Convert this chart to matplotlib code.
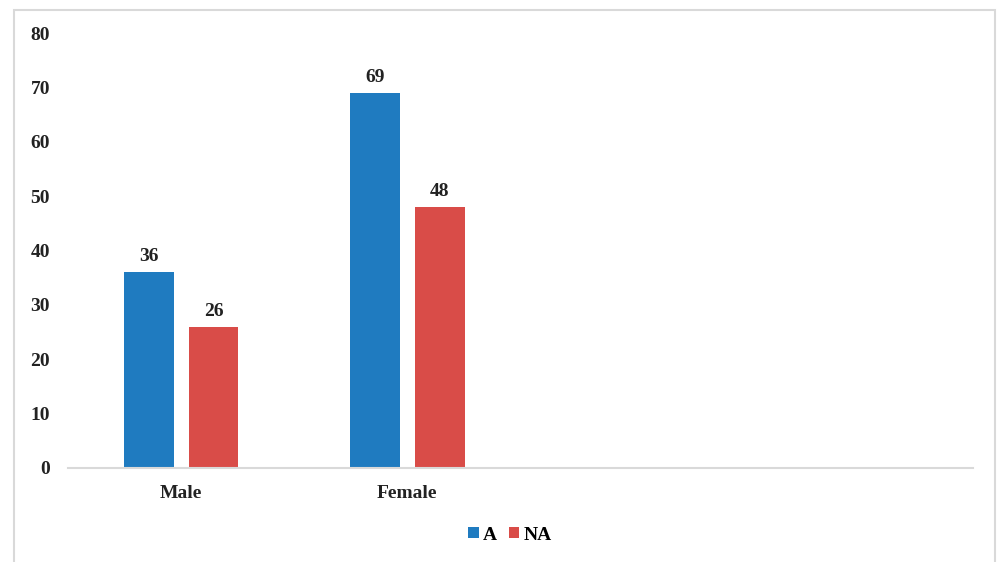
import numpy as np
import matplotlib.pyplot as plt
from matplotlib.patches import Rectangle

plt.rcParams['font.family'] = ['Liberation Serif', 'DejaVu Serif']

categories = ['Male', 'Female', '', '']
a_values = [36, 69]
na_values = [26, 48]

blue = '#1f7bc0'
red = '#d94c48'

fig = plt.figure(figsize=(9.98, 5.62), dpi=100)
ax = fig.add_axes([68 / 998, 1 - 468 / 562, 905 / 998, 435 / 562])

# light frame around the whole chart area
fig.patches.append(Rectangle((14 / 998, -0.01), 981 / 998, 1 - 10 / 562 + 0.01,
                             transform=fig.transFigure, fill=False,
                             edgecolor='#d9d9d9', linewidth=1.5))

x = np.arange(len(a_values))
w = 0.22
off = 0.143
b1 = ax.bar(x - off, a_values, w, color=blue, label='A')
b2 = ax.bar(x + off, na_values, w, color=red, label='NA')

for bars, vals in ((b1, a_values), (b2, na_values)):
    for b, v in zip(bars, vals):
        ax.annotate(str(v), (b.get_x() + b.get_width() / 2, v),
                    xytext=(0, 5), textcoords='offset points',
                    ha='center', va='bottom', fontsize=14, fontweight='bold',
                    color='#222222')

ax.set_xlim(-0.5, len(categories) - 0.5)
ax.set_ylim(0, 80)
ax.set_yticks(range(0, 81, 10))
ax.set_xticks(range(len(categories)))
ax.set_xticklabels(categories)
ax.tick_params(axis='both', length=0, labelsize=14, labelcolor='#222222')
ax.tick_params(axis='y', pad=13)
ax.tick_params(axis='x', pad=12)
for lab in ax.get_xticklabels() + ax.get_yticklabels():
    lab.set_fontweight('bold')

for s in ('top', 'right', 'left'):
    ax.spines[s].set_visible(False)
ax.spines['bottom'].set_color('#d9d9d9')
ax.spines['bottom'].set_linewidth(1.5)

fig.legend(handles=[b1, b2], loc='center', bbox_to_anchor=(510 / 998, 1 - 535 / 562),
           ncol=2, frameon=False, handlelength=0.55, handleheight=0.55,
           handletextpad=0.2, columnspacing=0.6,
           prop={'size': 14, 'weight': 'bold'})

fig.savefig('out.png', dpi=100)
